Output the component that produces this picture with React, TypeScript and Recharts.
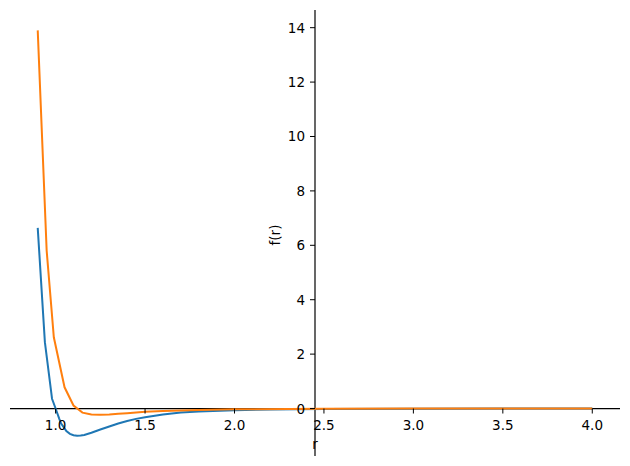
import { LineChart, Line, XAxis, YAxis, ReferenceLine } from "recharts";

const blueR = [0.9, 0.94, 0.98, 1.0, 1.02, 1.03, 1.05, 1.06, 1.08, 1.1, 1.12, 1.14, 1.16, 1.2, 1.25, 1.3, 1.35, 1.4, 1.45, 1.5, 1.6, 1.7, 1.8, 2.0, 2.2, 2.5, 3.0, 3.5, 4.0];
const blueF = [6.64, 2.44, 0.36, 0.0, -0.37, -0.54, -0.73, -0.83, -0.93, -0.98, -1.0, -0.99, -0.97, -0.89, -0.77, -0.66, -0.55, -0.46, -0.38, -0.32, -0.22, -0.15, -0.11, -0.06, -0.035, -0.016, -0.005, -0.002, -0.001];

const orangeR = [0.9, 0.95, 0.99, 1.05, 1.1, 1.15, 1.2, 1.25, 1.3, 1.35, 1.4, 1.45, 1.5, 1.6, 1.8, 2.0, 2.5, 3.0, 3.5, 4.0];
const orangeF = [13.9, 5.8, 2.62, 0.78, 0.11, -0.15, -0.22, -0.23, -0.22, -0.195, -0.17, -0.145, -0.12, -0.09, -0.05, -0.03, -0.01, -0.003, -0.001, 0.0];

const xTicks = [1.0, 1.5, 2.0, 2.5, 3.0, 3.5, 4.0];
const yTicks = [0, 2, 4, 6, 8, 10, 12, 14];

const blueData = blueR.map((r, i) => ({ r, f: blueF[i] }));
const orangeData = orangeR.map((r, i) => ({ r, f: orangeF[i] }));

const W = 630;
const H = 466;
const M = { top: 10, right: 10, left: 9, bottom: 9 };
const X_DOMAIN = [0.745, 4.155];
const Y_DOMAIN = [-1.745, 14.65];
const X_SPINE = 2.45;

// plot box is 10..620 x 10..456
const P_LEFT = 10;
const P_TOP = 10;
const plotW = 610;
const plotH = 446;
const px = (v: number) => P_LEFT + ((v - X_DOMAIN[0]) / (X_DOMAIN[1] - X_DOMAIN[0])) * plotW;
const py = (v: number) => P_TOP + ((Y_DOMAIN[1] - v) / (Y_DOMAIN[1] - Y_DOMAIN[0])) * plotH;

const FONT = "DejaVu Sans";

const XTick = (props: any) => {
  const { x, payload } = props;
  const y0 = py(0);
  return (
    <g>
      <line x1={x} x2={x} y1={y0} y2={y0 + 5} stroke="#000" strokeWidth={1} />
      <text x={x} y={y0 + 21} textAnchor="middle" fontFamily={FONT} fontSize={13.5} fill="#000">
        {Number(payload.value).toFixed(1)}
      </text>
    </g>
  );
};

const YTick = (props: any) => {
  const { y, payload } = props;
  const x0 = px(X_SPINE);
  return (
    <g>
      <line x1={x0 - 5} x2={x0} y1={y} y2={y} stroke="#000" strokeWidth={1} />
      <text x={x0 - 10} y={y + 5} textAnchor="end" fontFamily={FONT} fontSize={13.5} fill="#000">
        {payload.value}
      </text>
    </g>
  );
};

export default function App() {
  return (
    <div style={{ position: "absolute", left: 0, top: 0, width: W, height: H, background: "#fff" }}>
      <LineChart width={W} height={H} margin={M}>
        <XAxis
          type="number"
          dataKey="r"
          domain={X_DOMAIN}
          ticks={xTicks}
          allowDataOverflow
          height={1}
          axisLine={false}
          tickLine={false}
          tick={XTick}
          interval={0}
        />
        <YAxis
          type="number"
          dataKey="f"
          domain={Y_DOMAIN}
          ticks={yTicks}
          allowDataOverflow
          width={1}
          axisLine={false}
          tickLine={false}
          tick={YTick}
          interval={0}
        />
        <ReferenceLine y={0} stroke="#000" strokeWidth={1.2} />
        <ReferenceLine x={X_SPINE} stroke="#000" strokeWidth={1.2} />
        <Line
          data={blueData}
          dataKey="f"
          type="linear"
          stroke="#1f77b4"
          strokeWidth={2}
          dot={false}
          isAnimationActive={false}
        />
        <Line
          data={orangeData}
          dataKey="f"
          type="linear"
          stroke="#ff7f0e"
          strokeWidth={2}
          dot={false}
          isAnimationActive={false}
        />
        <text x={px(X_SPINE)} y={py(0) + 40} textAnchor="middle" fontFamily={FONT} fontSize={13.5} fill="#000">
          r
        </text>
        <text
          x={275}
          y={235}
          textAnchor="middle"
          dominantBaseline="central"
          fontFamily={FONT}
          fontSize={13.5}
          fill="#000"
          transform="rotate(-90 275 235)"
        >
          f(r)
        </text>
      </LineChart>
    </div>
  );
}
